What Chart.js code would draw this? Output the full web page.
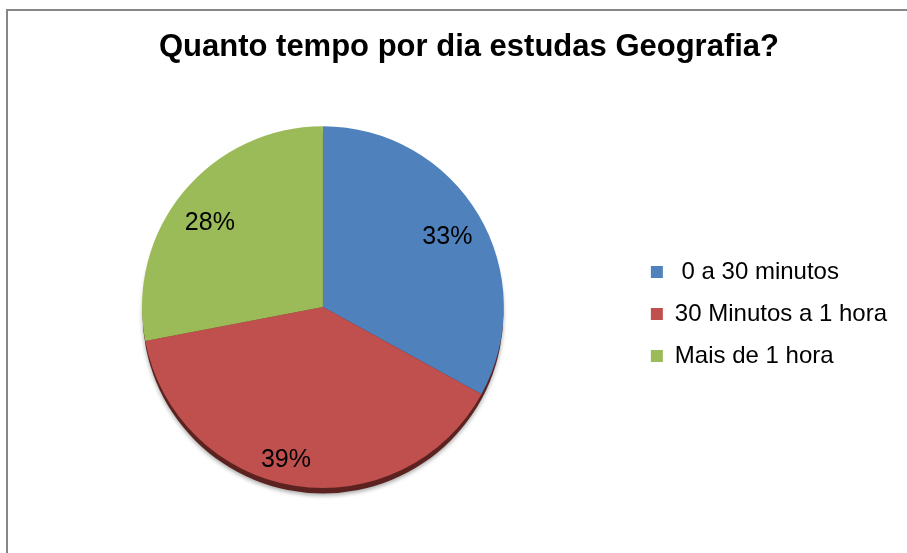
<!DOCTYPE html>
<html>
<head>
<meta charset="utf-8">
<script src="https://cdn.jsdelivr.net/npm/chart.js@4.4.1/dist/chart.umd.min.js"></script>
<style>
  html, body { margin: 0; padding: 0; background: #fff; overflow: hidden; }
  #wrap { position: relative; width: 907px; height: 553px; overflow: hidden; }
  #frame { position: absolute; left: 6px; top: 9px; width: 1000px; height: 1000px;
           border-left: 2px solid #878787; border-top: 2px solid #878787; }
  canvas { position: absolute; left: 0; top: 0; }
</style>
</head>
<body>
<div id="wrap">
  <div id="frame"></div>
  <canvas id="pie" width="907" height="553"></canvas>
</div>
<script>
// data
const categories = [' 0 a 30 minutos', '30 Minutos a 1 hora', 'Mais de 1 hora'];
const percentages = [33, 39, 28];
const sliceColors = ['#4F81BD', '#C0504D', '#9BBB59'];

// where the % labels sit: share of the radius, and a small turn off the middle angle
const labelRadius = [0.79, 0.87, 0.78];
const labelTurn = [0.02, 0.08, -0.05];
const legendGapWidth = 28;

Chart.defaults.font.family = '"Liberation Sans", Arial, sans-serif';
Chart.defaults.color = '#000';

// empty box between the pie and the legend
// (display:false so it does not halve the width the legend may take)
const legendGap = {
  id: 'legendGap',
  beforeInit(chart) {
    const box = {
      position: 'right',
      weight: 500,
      fullSize: false,
      options: { display: false },
      left: 0, top: 0, right: 0, bottom: 0, width: 0, height: 0,
      isHorizontal() { return false; },
      update(maxWidth, maxHeight) {
        this.width = legendGapWidth;
        this.height = maxHeight;
      },
      draw() {}
    };
    Chart.layouts.addBox(chart, box);
  }
};

// dark rim under the pie
const pieShadow = {
  id: 'pieShadow',
  beforeDatasetsDraw(chart) {
    const arc = chart.getDatasetMeta(0).data[0];
    if (!arc) return;
    const p = arc.getProps(['x', 'y', 'outerRadius']);
    const ctx = chart.ctx;
    ctx.save();
    ctx.fillStyle = '#5b2220';
    ctx.shadowColor = 'rgba(0,0,0,0.35)';
    ctx.shadowBlur = 4;
    ctx.shadowOffsetY = 2;
    ctx.beginPath();
    ctx.arc(p.x, p.y + 6, p.outerRadius - 0.5, 0, Math.PI * 2);
    ctx.fill();
    ctx.restore();
  }
};

const sliceLabels = {
  id: 'sliceLabels',
  afterDatasetsDraw(chart) {
    const ctx = chart.ctx;
    const meta = chart.getDatasetMeta(0);
    ctx.save();
    ctx.font = '25px "Liberation Sans", Arial, sans-serif';
    ctx.fillStyle = '#000';
    ctx.textAlign = 'center';
    ctx.textBaseline = 'middle';
    meta.data.forEach((arc, i) => {
      const p = arc.getProps(['x', 'y', 'startAngle', 'endAngle', 'outerRadius']);
      const mid = (p.startAngle + p.endAngle) / 2 + labelTurn[i];
      const r = p.outerRadius * labelRadius[i];
      ctx.fillText(percentages[i] + '%', p.x + Math.cos(mid) * r, p.y + Math.sin(mid) * r);
    });
    ctx.restore();
  }
};

new Chart(document.getElementById('pie'), {
  type: 'pie',
  data: {
    labels: categories,
    datasets: [{
      data: percentages,
      backgroundColor: sliceColors,
      borderWidth: 0,
      hoverOffset: 0
    }]
  },
  options: {
    responsive: false,
    animation: false,
    devicePixelRatio: 1,
    layout: {
      padding: { left: 41, right: 10, top: 0, bottom: 65 }
    },
    plugins: {
      title: {
        display: true,
        text: 'Quanto tempo por dia estudas Geografia?',
        color: '#000',
        font: { size: 31, weight: 'bold' },
        padding: { top: 29, bottom: 60 }
      },
      legend: {
        position: 'right',
        fullSize: false,
        title: { display: true, text: '', font: { size: 10 }, padding: 1 },
        labels: {
          boxWidth: 12,
          boxHeight: 12,
          padding: 18,
          color: '#000',
          font: { size: 24 }
        }
      },
      tooltip: { enabled: false }
    }
  },
  plugins: [legendGap, pieShadow, sliceLabels]
});
</script>
</body>
</html>
